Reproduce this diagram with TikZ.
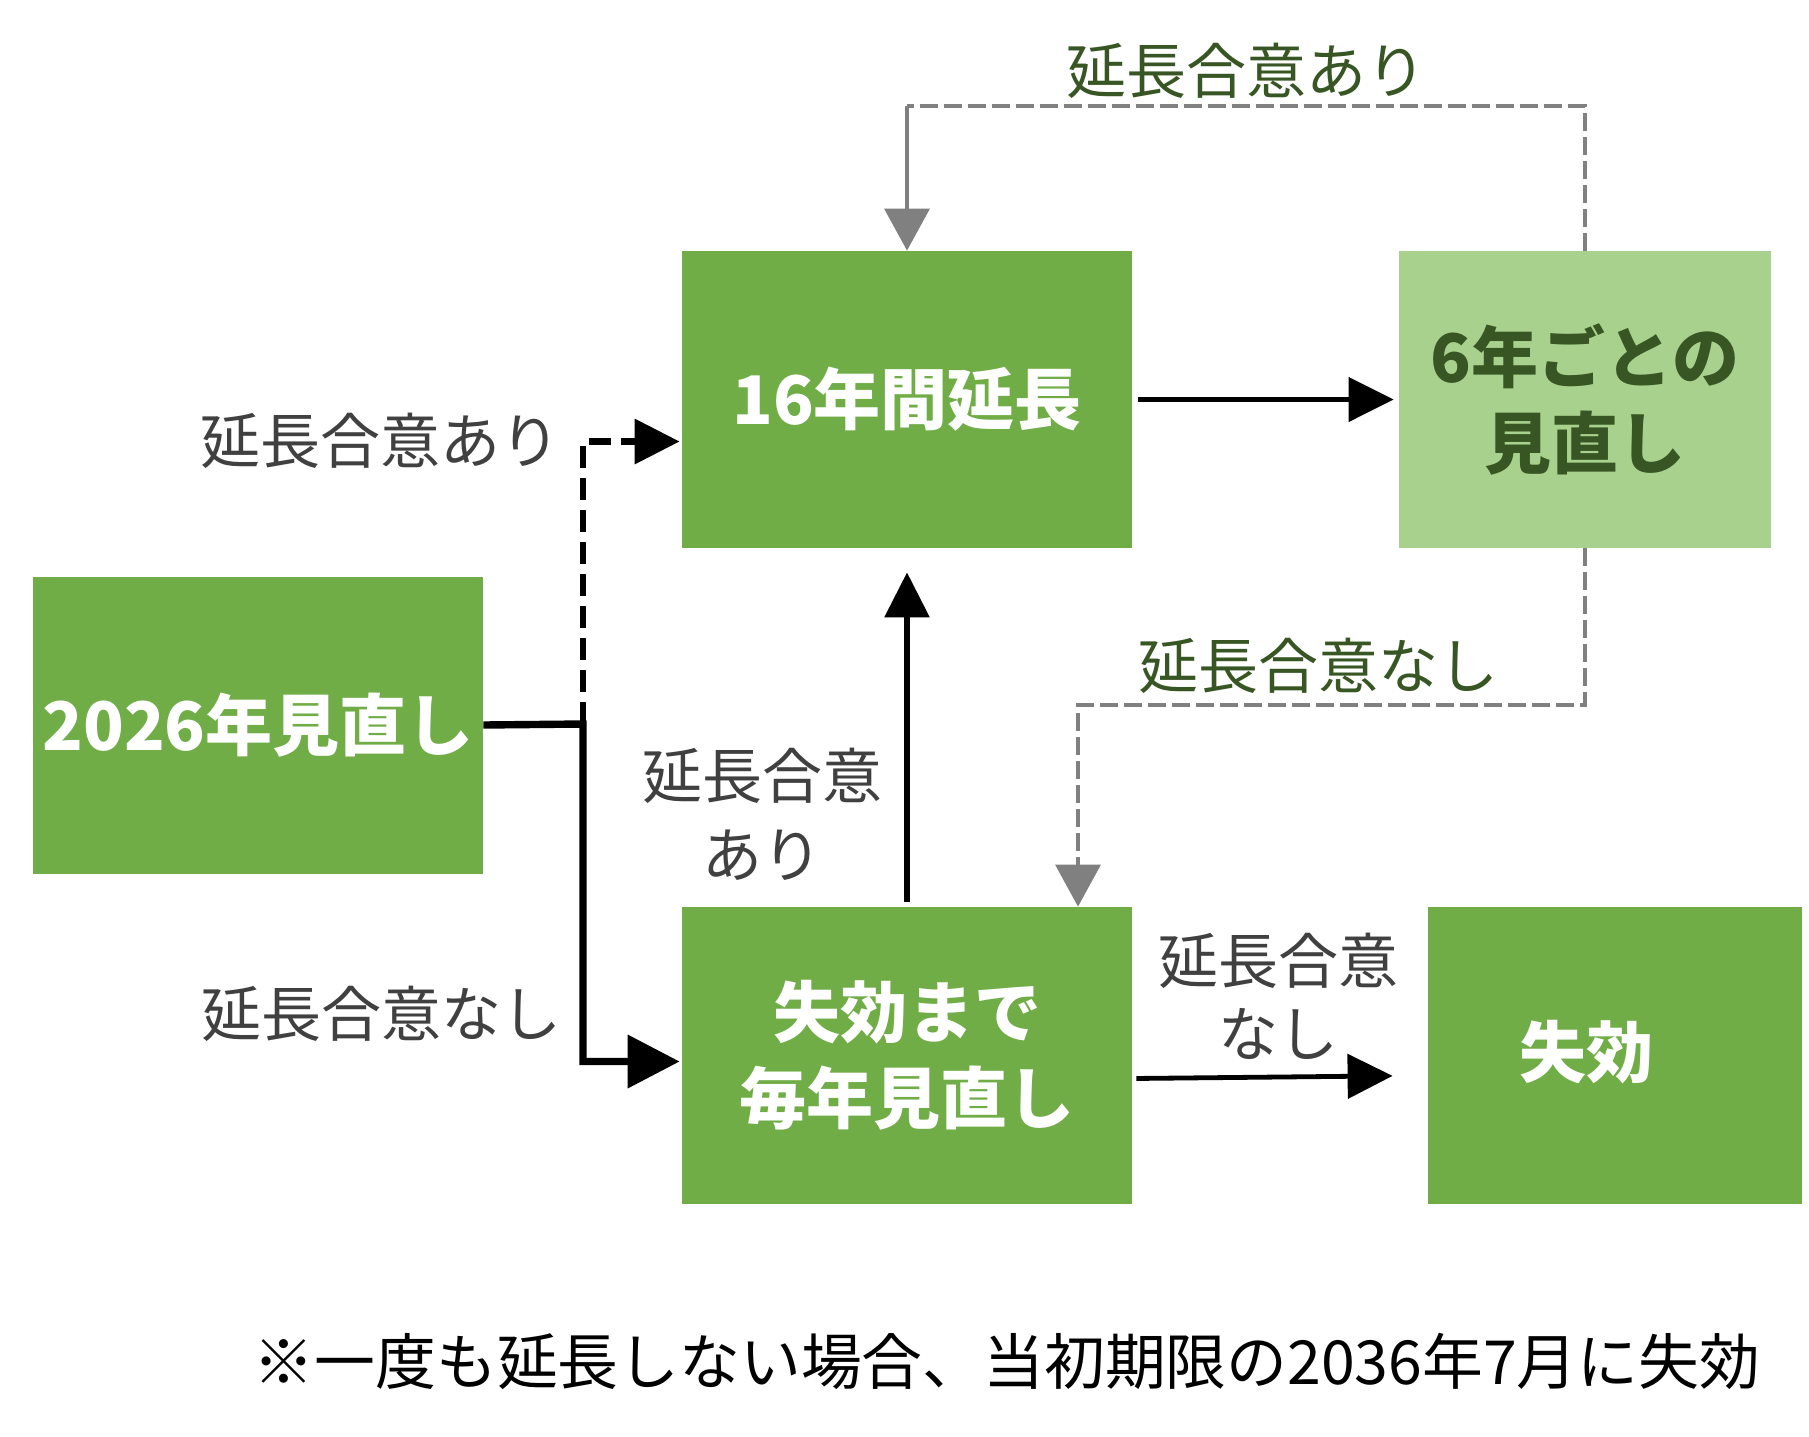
\documentclass[tikz,border=0pt]{standalone}
\usepackage{fontspec}
\setmainfont{Noto Sans CJK JP}
\usetikzlibrary{arrows.meta}
\definecolor{boxgreen}{HTML}{70AD47}
\definecolor{lightgreen}{HTML}{A9D18E}
\definecolor{darkgreen}{HTML}{375623}
\definecolor{labelgrey}{HTML}{404040}
\definecolor{linegrey}{HTML}{808080}
\begin{document}
\begin{tikzpicture}[x=0.5pt,y=-0.5pt,
  box/.style={rectangle, fill=boxgreen, draw=none, minimum width=225pt,
    minimum height=148.5pt, inner sep=0pt, text=white,
    font=\fontsize{33.5}{43}\selectfont\bfseries, align=center},
  lbl/.style={font=\fontsize{30}{38}\selectfont, text=labelgrey, align=center, inner sep=0pt},
  glbl/.style={lbl, text=darkgreen},
  bigtip/.style={-{Triangle[length=22.5pt,width=22pt]}},
  hugetip/.style={-{Triangle[length=26pt,width=26pt]}},
  blk/.style={draw=black, line width=2pt, bigtip},
  heavy/.style={draw=black, line width=3.7pt},
  heavydash/.style={draw=black, line width=3.4pt, dash pattern=on 11pt off 5pt},
  greyline/.style={draw=linegrey, line width=1.75pt},
  greydash/.style={greyline, dash pattern=on 9pt off 3pt},
  greytip/.style={-{Triangle[length=21pt,width=22.5pt]}}
]
\useasboundingbox (0,0) rectangle (1809,1436);

% boxes
\node[box] (A) at (258,725) {2026年見直し};
\node[box] (B) at (907,399.5) {16年間延長};
\node[box, fill=lightgreen, text=darkgreen, minimum width=186pt] (C) at (1585,399.5) {6年ごとの\\見直し};
\node[box] (D) at (907,1055.5) {失効まで\\毎年見直し};
\node[box, minimum width=187pt] (E) at (1615,1055.5) {};
\node[box, fill=none, minimum width=0pt, minimum height=0pt] (Et) at (1586,1052) {失効};

% junction and corners
\coordinate (j) at (583,724);
\coordinate (k) at (907,106);
\coordinate (m) at (1078,705);

% A -> B (dashed) and A -> D (solid)
\draw[heavy, hugetip, shorten >=1pt] (A.east) -- (j) |- ([yshift=-3pt]D.west);
\draw[heavydash, bigtip, shorten >=1pt] (j) |- ([yshift=-21pt]B.west);

% B -> C
\draw[blk, line width=2.2pt, shorten <=3pt, shorten >=2.5pt] (B.east) -- (C.west);

% D -> B
\draw[blk, line width=3pt, shorten <=2.5pt, shorten >=12pt] (D.north) -- (B.south);

% D -> E
\draw[blk, line width=2.4pt, shorten <=2pt, shorten >=17.5pt] ([yshift=-11.5pt]D.east) -- ([yshift=-10pt]E.west);

% C -> B (grey, top)
\draw[greydash] (C.north) |- (k);
\draw[greyline, greytip] (k) -- (B.north);

% C -> D (grey, middle)
\draw[greydash, greytip] (C.south) |- (m) -- ([xshift=85.5pt]D.north);

% labels
\node[glbl] (l1) at (1246,71) {延長合意あり};
\node[glbl] (l2) at (1318,666) {延長合意なし};
\node[lbl] (l3) at (380,441) {延長合意あり};
\node[lbl] (l4) at (381,1014) {延長合意なし};
\node[lbl, font=\fontsize{30}{39.5}\selectfont] (l5) at (762,814.5) {延長合意\\あり};
\node[lbl, font=\fontsize{30}{36.5}\selectfont] (l6) at (1278,996.5) {延長合意\\なし};
\node[lbl, text=black, font=\fontsize{30.4}{38}\selectfont] (note) at (1007,1361) {※一度も延長しない場合、当初期限の2036年7月に失効};
\end{tikzpicture}
\end{document}
